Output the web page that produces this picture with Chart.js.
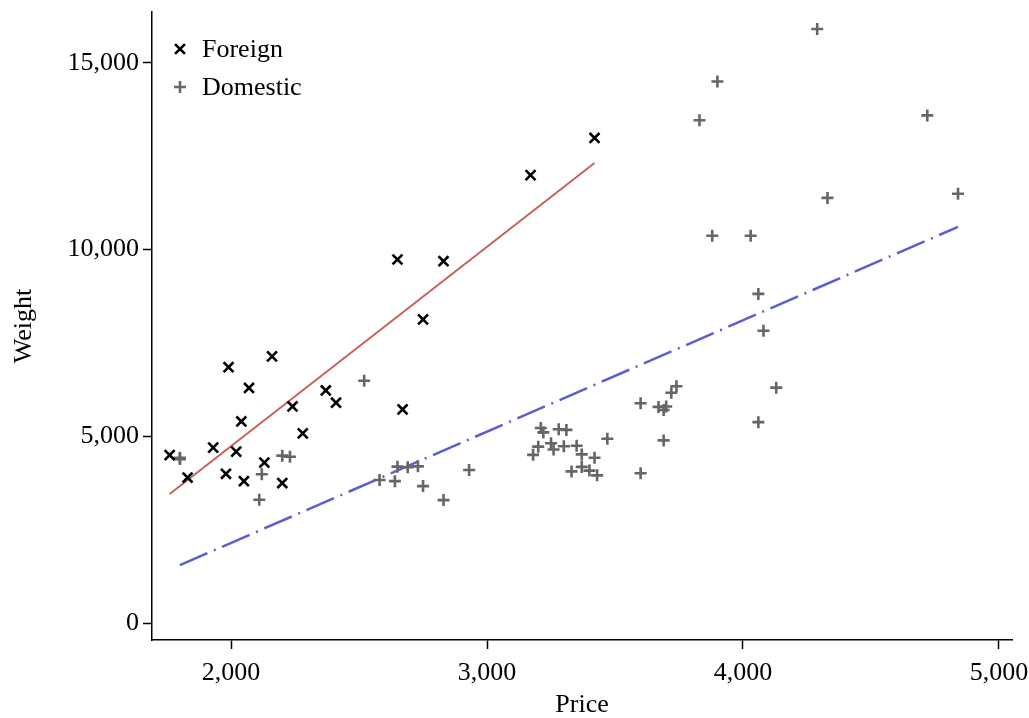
<!DOCTYPE html>
<html>
<head>
<meta charset="utf-8">
<script src="https://cdn.jsdelivr.net/npm/chart.js@4.4.1/dist/chart.umd.min.js"></script>
<style>
  body { margin: 0; background: #fff; }
  #wrap { width: 1029px; height: 718px; }
</style>
</head>
<body>
<div id="wrap"><canvas id="chart" width="1029" height="718"></canvas></div>
<script>
// values
var foreignX = [2830, 2070, 2650, 2370, 2020, 2280, 2750, 2130, 2240, 1760, 1980, 3420, 1830, 2050, 2410, 2200, 2670, 2160, 2040, 1930, 1990, 3170];
var foreignY = [9690, 6295, 9735, 6229, 4589, 5079, 8129, 4296, 5799, 4499, 3995, 12990, 3895, 3798, 5899, 3748, 5719, 7140, 5397, 4697, 6850, 11995];

var domesticX = [2930, 3350, 2640, 3250, 4080, 3670, 2230, 3280, 3880, 3400, 4330, 3900, 4290, 2110, 3690, 3180, 3220, 2750, 3430, 2120,
  3600, 3600, 3740, 1800, 2650, 4840, 4720, 3830, 2580, 4060, 3720, 3370, 4130, 2830, 4060, 3310, 3300, 3690, 3370, 2730,
  4030, 3260, 1800, 2200, 2520, 3330, 3700, 3470, 3210, 3200, 3420, 2690];
var domesticY = [4099, 4749, 3799, 4816, 7827, 5788, 4453, 5189, 10372, 4082, 11385, 14500, 15906, 3299, 5705, 4504, 5104, 3667, 3955, 3984,
  4010, 5886, 6342, 4389, 4187, 11497, 13594, 13466, 3829, 5379, 6165, 4516, 6303, 3291, 8814, 5172, 4733, 4890, 4181, 4195,
  10371, 4647, 4425, 4482, 6486, 4060, 5798, 4934, 5222, 4723, 4424, 4172];

var foreignFitX = [1760, 3420];
var foreignFitY = [3455, 12320];
var domesticFitX = [1800, 4840];
var domesticFitY = [1550, 10610];

var xTicks = [2000, 3000, 4000, 5000];
var yTicks = [0, 5000, 10000, 15000];

function pts(xs, ys) {
  return xs.map(function (x, i) { return { x: x, y: ys[i] }; });
}

var serif = '"Liberation Serif", "Times New Roman", serif';
var fs = 26;
Chart.defaults.font.family = serif;
Chart.defaults.color = '#000';

// legend drawn inside the plot, top left
var insideLegend = {
  id: 'insideLegend',
  afterDatasetsDraw: function (chart) {
    var ctx = chart.ctx;
    var a = chart.chartArea;
    [0, 1].forEach(function (i) {
      var ds = chart.data.datasets[i];
      var cx = a.left + 28;
      var cy = a.top + 37 + i * 38;
      ctx.save();
      ctx.strokeStyle = ds.borderColor;
      ctx.fillStyle = ds.borderColor;
      ctx.lineWidth = ds.borderWidth;
      Chart.helpers.drawPoint(ctx, {
        pointStyle: ds.pointStyle, radius: ds.pointRadius, borderWidth: ds.borderWidth
      }, cx, cy);
      ctx.fillStyle = '#000';
      ctx.font = fs + 'px ' + serif;
      ctx.textBaseline = 'middle';
      ctx.fillText(ds.label, cx + 22, cy + 1);
      ctx.restore();
    });
  }
};

new Chart(document.getElementById('chart'), {
  type: 'scatter',
  data: {
    datasets: [
      { label: 'Foreign', data: pts(foreignX, foreignY), pointStyle: 'crossRot', pointRadius: 7,
        borderColor: '#000', backgroundColor: '#000', borderWidth: 2.6, order: 1 },
      { label: 'Domestic', data: pts(domesticX, domesticY), pointStyle: 'cross', pointRadius: 6,
        borderColor: '#666', backgroundColor: '#666', borderWidth: 2.6, order: 2 },
      { type: 'line', label: 'fitF', data: pts(foreignFitX, foreignFitY), showLine: true, pointRadius: 0,
        borderColor: '#c8605c', borderWidth: 2, fill: false, order: 3 },
      { type: 'line', label: 'fitD', data: pts(domesticFitX, domesticFitY), showLine: true, pointRadius: 0,
        borderColor: '#5d5dd2', borderWidth: 2.5, borderDash: [30, 7, 2, 7], fill: false, order: 3 }
    ]
  },
  options: {
    responsive: false,
    animation: false,
    layout: { padding: { left: 0, top: 12, right: 17, bottom: 0 } },
    plugins: { legend: { display: false }, tooltip: { enabled: false } },
    scales: {
      x: {
        type: 'linear', min: 1691, max: 5051,
        afterBuildTicks: function (s) { s.ticks = xTicks.map(function (v) { return { value: v }; }); },
        afterFit: function (s) { s.height = 78; s.paddingLeft = 0; s.paddingRight = 0; },
        ticks: { font: { size: fs }, padding: 9, maxRotation: 0,
          callback: function (v) { return v.toLocaleString('en-US'); } },
        grid: { drawOnChartArea: false, drawTicks: true, tickLength: 9, tickColor: '#000', tickWidth: 1.5 },
        border: { display: true, color: '#000', width: 1.5 },
        title: { display: true, text: 'Price', font: { size: fs }, padding: { top: 0, bottom: -3 } }
      },
      y: {
        type: 'linear', min: -455, max: 16363,
        afterBuildTicks: function (s) { s.ticks = yTicks.map(function (v) { return { value: v }; }); },
        afterFit: function (s) { s.width = 152; s.paddingTop = 0; s.paddingBottom = 0; },
        ticks: { font: { size: fs }, padding: 4,
          callback: function (v) { return v.toLocaleString('en-US'); } },
        grid: { drawOnChartArea: false, drawTicks: true, tickLength: 9, tickColor: '#000', tickWidth: 1.5 },
        border: { display: true, color: '#000', width: 1.5 },
        title: { display: true, text: 'Weight', font: { size: fs }, padding: { top: 9, bottom: 0 } }
      }
    }
  },
  plugins: [insideLegend]
});
</script>
</body>
</html>
